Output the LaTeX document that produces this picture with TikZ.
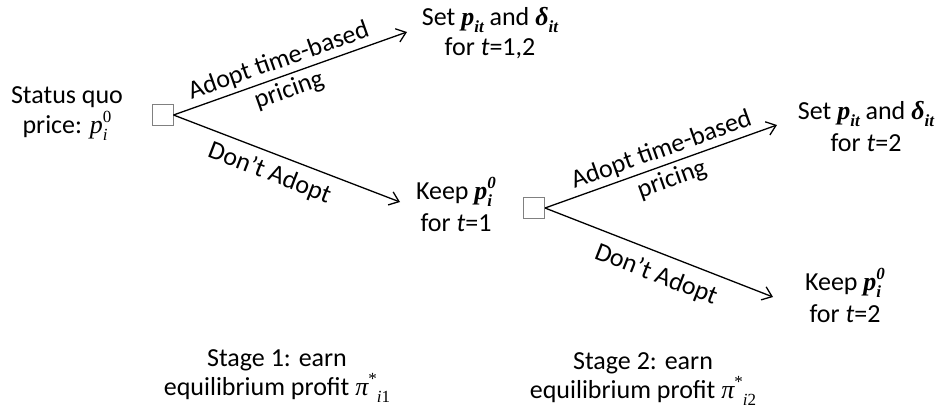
\documentclass[tikz,border=0pt]{standalone}
\usepackage{fontspec}
\setmainfont{Carlito}
\newfontfamily\tms{Liberation Serif}
\usetikzlibrary{arrows.meta}
\newcommand\mysup[1]{\raisebox{0.42em}{\fontsize{17}{17}\selectfont #1}}
\newcommand\mysub[1]{\raisebox{-0.28em}{\fontsize{17}{17}\selectfont #1}}
\newcommand\mysupsub[2]{\ooalign{\mysup{#1}\cr\mysub{#2}}}
\newcommand\pio{{\tms\itshape p}\mysupsub{\tms 0}{\tms\itshape i}}
\newcommand\pbo{{\tms\bfseries\itshape p}\mysupsub{\tms\bfseries\itshape 0}{\tms\bfseries\itshape i}}
\newcommand\pbit{{\tms\bfseries\itshape p}\mysub{\tms\bfseries\itshape it}}
\newcommand\dbit{{\tms\bfseries\itshape δ}\mysub{\tms\bfseries\itshape it}}
\newcommand\vart{\textit{t}}
\newcommand\pistar[1]{{\tms\itshape π}\mysup{\tms *}\mysub{\tms\itshape i\upshape #1}}
\begin{document}
\begin{tikzpicture}[x=1pt,y=-1pt,
  every node/.style={font=\fontsize{26}{31}\selectfont, inner sep=0pt},
  txt/.style={align=center, anchor=base},
  lbl/.style={align=center, anchor=center},
  decision/.style={draw=black!50, fill=white, line width=1pt, minimum size=21pt},
  branch/.style={line width=1.3pt, -{Straight Barb[length=9pt,width=14pt,line width=1.3pt]}}]
\useasboundingbox (0,0) rectangle (936,413);

% texts (anchor=base is the baseline of the last line)
\node[txt, font=\fontsize{26}{30}\selectfont] (status) at (67,133) {Status quo\\price: \pio};
\node[txt, font=\fontsize{26}{30}\selectfont] (set1) at (490,55) {Set \pbit{} and \dbit\\for \vart=1,2};
\node[txt, font=\fontsize{26}{32}\selectfont] (keep1) at (456,231) {Keep \pbo\\for \vart=1};
\node[txt, font=\fontsize{26}{32}\selectfont] (set2) at (866,151) {Set \pbit{} and \dbit\\for \vart=2};
\node[txt, font=\fontsize{26}{32}\selectfont] (keep2) at (845,322) {Keep \pbo\\for \vart=2};
\node[txt, font=\fontsize{26}{29}\selectfont] (stage1) at (277,395) {Stage 1: earn\\equilibrium profit \pistar{1}};
\node[txt, font=\fontsize{26}{29}\selectfont] (stage2) at (643,398) {Stage 2: earn\\equilibrium profit \pistar{2}};

% decision squares
\node[decision] (sq1) at (162.5,115) {};
\node[decision] (sq2) at (534,208) {};

% arrow tips
\coordinate (tip1) at (407,32);
\coordinate (tip2) at (400,202);
\coordinate (tip3) at (777,125);
\coordinate (tip4) at (773,297);

\draw[branch] (sq1.east) -- (tip1);
\draw[branch] (sq1.east) -- (tip2);
\draw[branch] (sq2.east) -- (tip3);
\draw[branch] (sq2.east) -- (tip4);

% branch labels
\node[lbl, rotate=19.5] (adopt1) at (284,76) {Adopt time-based\\pricing};
\node[lbl, rotate=-21] (dont1) at (269.5,173.4) {Don’t Adopt};
\node[lbl, rotate=19.7] (adopt2) at (666.7,165) {Adopt time-based\\pricing};
\node[lbl, rotate=-21.3] (dont2) at (656,275) {Don’t Adopt};
\end{tikzpicture}
\end{document}
